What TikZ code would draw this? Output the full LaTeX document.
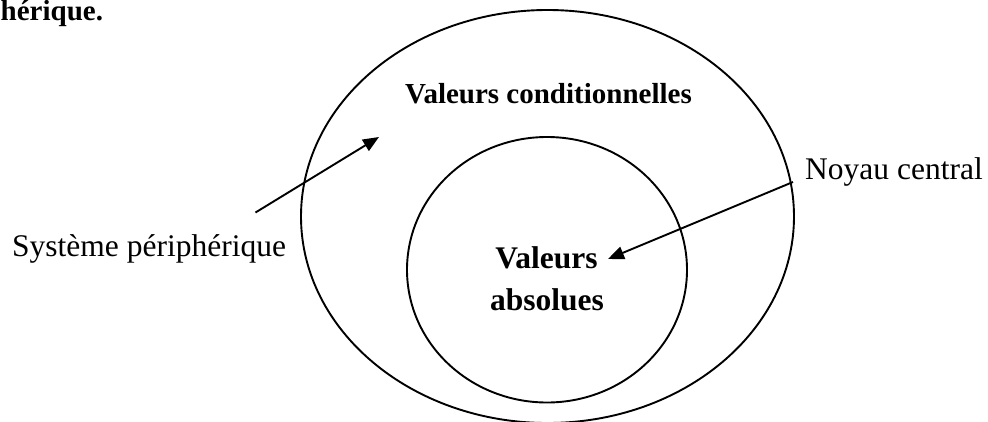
\documentclass[tikz,border=0pt]{standalone}
\usepackage{fontspec}
\setmainfont{Liberation Serif}
\usetikzlibrary{shapes.geometric,arrows.meta}

\tikzset{
  ring/.style={ellipse, draw, line width=1.9pt, inner sep=0pt, outer sep=0pt},
  pointer/.style={line width=1.9pt, -{Triangle[length=16pt,width=13pt]}},
  label text/.style={inner sep=0pt, font=\fontsize{31.5}{38}\selectfont},
  bold text/.style={inner sep=0pt, font=\fontsize{29}{35}\selectfont\bfseries},
  core text/.style={inner sep=0pt, font=\fontsize{31.5}{38}\selectfont\bfseries},
}

\begin{document}
\begin{tikzpicture}[x=1pt, y=-1pt]
  \useasboundingbox (0,0) rectangle (988,421);
  \clip (0,0) rectangle (988,421);

  % caption fragment at the top edge
  \node[bold text, anchor=base west] (caption) at (0.5,20) {hérique.};

  % the two nested value zones
  \node[ring, minimum width=493pt, minimum height=413pt] (outer) at (547.5,216.5) {};
  \node[ring, minimum width=280pt, minimum height=265.5pt] (inner) at (547,269.75) {};

  % zone titles
  \node[bold text, anchor=base] (cond) at (548.5,103) {Valeurs conditionnelles};
  \node[core text, anchor=base] (absA) at (546.5,268) {Valeurs};
  \node[core text, anchor=base] (absB) at (547,310) {absolues};

  % outside labels
  \node[label text, anchor=base west] (periph) at (12,256) {Système périphérique};
  \node[label text, anchor=base west] (noyau) at (805,179) {Noyau central};

  % pointers
  \coordinate (pTail) at (255.5,212.5);
  \coordinate (pHead) at (379,137);
  \coordinate (nTail) at (793,182);
  \coordinate (nHead) at (608,259);
  \draw[pointer] (pTail) -- (pHead);
  \draw[pointer] (nTail) -- (nHead);
\end{tikzpicture}
\end{document}
